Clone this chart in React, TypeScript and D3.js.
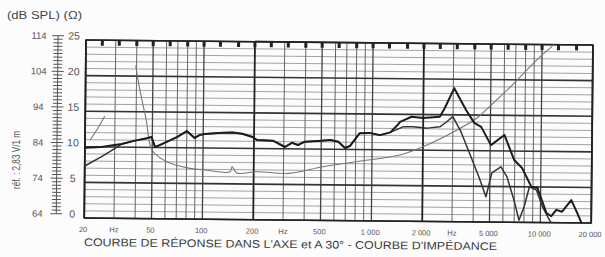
import React, { useEffect, useRef } from "react";
import * as d3 from "d3";

// tick labels
const freqTicks = [20, 50, 100, 200, 500, 1000, 2000, 5000, 10000, 20000];
const freqTickLabels = ["20", "50", "100", "200", "500", "1 000", "2 000", "5 000", "10 000", "20 000"];
const hzLabelFreqs = [30, 300, 3000];
const splTicks = [64, 74, 84, 94, 104, 114];
const ohmTicks = [0, 5, 10, 15, 20, 25];
const thirdOctaveMarks = [25, 31.5, 40, 50, 63, 80, 100, 125, 160, 200, 250, 315, 400, 500, 630, 800, 1000, 1250, 1600, 2000, 2500, 3150, 4000, 5000, 6300, 8000, 10000, 12500, 16000];

// response curves (dB SPL)
const axisLowFreq = [20, 25, 30];
const axisLowSpl = [83.7, 84.0, 84.6];
const offAxisLowFreq = [20, 25, 30];
const offAxisLowSpl = [78.6, 81.2, 83.6];
const commonFreq = [33, 39, 46.5, 49.5, 52, 61, 70, 80, 89, 95, 102, 130, 150, 170, 194, 208, 259, 305, 335, 364, 400, 480, 566, 631, 692, 739, 844, 966, 1112, 1279];
const commonSpl = [84.9, 85.8, 86.6, 86.95, 84.1, 85.6, 87.0, 88.7, 86.8, 87.6, 87.9, 88.35, 88.4, 88.1, 87.3, 86.4, 86.25, 84.5, 85.7, 85.1, 86.05, 86.3, 86.6, 86.1, 84.4, 84.95, 88.6, 88.7, 88.1, 88.9];
const axisHighFreq = [1411, 1460, 1705, 1996, 2508, 2680, 3040, 3580, 4010, 4410, 5050, 6060, 6940, 7740, 8810, 9570, 10860, 11600, 12400, 13440, 15200, 16500, 17700];
const axisHighSpl = [91.0, 91.9, 93.35, 93.0, 93.4, 95.9, 101.5, 95.4, 91.8, 90.7, 85.6, 88.5, 81.5, 79.25, 74.0, 73.7, 66.7, 65.8, 67.6, 67.1, 70.4, 66.8, 63.5];
const offAxisHighFreq = [1520, 1740, 2120, 2510, 2760, 2990, 3350, 3850, 4300, 4750, 5130, 5800, 6300, 6960, 7470, 8000, 8580, 9440, 10280, 11330, 11800];
const offAxisHighSpl = [90.5, 90.55, 90.2, 90.6, 92.05, 93.5, 89.3, 82.3, 76.7, 71.1, 77.8, 79.55, 76.8, 70.25, 64.6, 68.4, 74.0, 73.1, 68.4, 64.7, 63.5];

// impedance curve (ohm); the resonance peak is faded out on the scan (NaN = not visible)
const impFreq = [21.4, 23.5, 26.1, 33, 39.5, 41.4, 45.9, 49.9, 61.2, 83.7, 102.6, 145, 149, 159, 209, 328, 512, 812, 1460, 2000, 3180, 4140, 4920, 6260, 7780, 9760, 11550, 13000];
const impOhm = [10.95, 12.4, 14.35, NaN, 21.5, 18.75, 13.85, 9.65, 8.0, 7.12, 6.9, 6.7, 7.4, 6.53, 6.74, 6.56, 7.53, 8.29, 9.28, 10.48, 12.88, 14.55, 16.2, 18.57, 20.9, 23.3, 24.9, 27];

function zip(f: number[], v: number[]) {
  return f.map((d, i) => [d, v[i]] as [number, number]);
}

function App() {
  const svgRef = useRef<SVGSVGElement>(null);

  useEffect(() => {
    document.body.style.margin = "0";
    const w = 605;
    const h = 257;
    const left = 86;
    const top = 40;
    const W = 507;
    const H = 178;
    const font = "'Liberation Sans', Arial, sans-serif";

    const svg = d3.select(svgRef.current);
    svg.selectAll("*").remove();
    svg.attr("width", w).attr("height", h).style("display", "block").style("background", "#fcfcfc");

    const x = d3.scaleLog().domain([20, 20000]).range([0, W]);
    const ySpl = d3.scaleLinear().domain([64, 114]).range([H, 0]);
    const yOhm = d3.scaleLinear().domain([0, 25]).range([H, 0]);

    svg
      .append("text")
      .attr("x", 7)
      .attr("y", 18.5)
      .attr("textLength", 75)
      .attr("lengthAdjust", "spacingAndGlyphs")
      .style("font-family", font)
      .style("font-size", "10px")
      .style("fill", "#444")
      .text("(dB SPL) (Ω)");

    svg
      .append("text")
      .attr("transform", "translate(19.5,160) rotate(-90)")
      .attr("text-anchor", "middle")
      .attr("textLength", 58)
      .attr("lengthAdjust", "spacingAndGlyphs")
      .style("font-family", font)
      .style("font-size", "10px")
      .style("fill", "#555")
      .text("réf. : 2,83 V/1 m");

    // the scan is slightly tilted
    const g = svg.append("g").attr("transform", `translate(${left},${top}) rotate(0.57)`);

    g.append("defs")
      .append("clipPath")
      .attr("id", "plotClip")
      .append("rect")
      .attr("x", 0)
      .attr("y", 0)
      .attr("width", W)
      .attr("height", H);

    // left scale
    const rulerX = -28;
    const off = -4;
    g.append("line")
      .attr("x1", rulerX)
      .attr("x2", rulerX)
      .attr("y1", ySpl(114) + off)
      .attr("y2", ySpl(64) + off)
      .style("stroke", "#555")
      .style("stroke-width", 1);
    g.selectAll(".rtick")
      .data(d3.range(64, 115, 1))
      .join("line")
      .attr("x1", (d) => rulerX - ((d - 64) % 10 === 0 ? 6 : 4.5))
      .attr("x2", (d) => rulerX + ((d - 64) % 10 === 0 ? 6 : 4.5))
      .attr("y1", (d) => ySpl(d) + off)
      .attr("y2", (d) => ySpl(d) + off)
      .style("stroke", "#555")
      .style("stroke-width", 1);
    g.selectAll(".splLabel")
      .data(splTicks)
      .join("text")
      .attr("x", -47)
      .attr("y", (d) => ySpl(d) + off)
      .attr("dy", "0.35em")
      .attr("text-anchor", "middle")
      .style("font-family", font)
      .style("font-size", "9.5px")
      .style("fill", "#555")
      .text((d) => d);
    g.selectAll(".ohmLabel")
      .data(ohmTicks)
      .join("text")
      .attr("x", -12)
      .attr("y", (d) => yOhm(d) + off)
      .attr("dy", "0.35em")
      .attr("text-anchor", "middle")
      .style("font-family", font)
      .style("font-size", "10.5px")
      .style("fill", "#555")
      .text((d) => d);

    // grid
    const minorH = d3.range(64, 115, 2).filter((d) => (d - 64) % 10 !== 0);
    g.selectAll(".minorH")
      .data(minorH)
      .join("line")
      .attr("x1", 0)
      .attr("x2", W)
      .attr("y1", (d) => ySpl(d))
      .attr("y2", (d) => ySpl(d))
      .style("stroke", "#999")
      .style("stroke-width", 0.9);

    const vlines: { f: number; k: number }[] = [];
    [10, 100, 1000, 10000].forEach((dec) => {
      for (let k = 1; k <= 9; k++) {
        const f = k * dec;
        if (f >= 20 && f <= 20000) vlines.push({ f, k });
      }
    });
    g.selectAll(".vline")
      .data(vlines)
      .join("line")
      .attr("x1", (d) => x(d.f))
      .attr("x2", (d) => x(d.f))
      .attr("y1", 0)
      .attr("y2", H)
      .style("stroke", (d) => (d.k === 2 ? "#222" : d.k === 1 || d.k === 5 ? "#444" : "#666"))
      .style("stroke-width", (d) => (d.k === 2 ? 1.8 : d.k === 1 || d.k === 5 ? 1.3 : 1));

    g.selectAll(".majorH")
      .data(splTicks)
      .join("line")
      .attr("x1", 0)
      .attr("x2", W)
      .attr("y1", (d) => ySpl(d))
      .attr("y2", (d) => ySpl(d))
      .style("stroke", "#333")
      .style("stroke-width", 1.6);

    g.append("rect")
      .attr("x", 0)
      .attr("y", 0)
      .attr("width", W)
      .attr("height", H)
      .style("fill", "none")
      .style("stroke", "#222")
      .style("stroke-width", 1.6);

    g.selectAll(".mark")
      .data(thirdOctaveMarks)
      .join("rect")
      .attr("x", (d) => x(d) - 1.5)
      .attr("y", 0)
      .attr("width", 3)
      .attr("height", 5.5)
      .style("fill", "#222");

    // curves
    const curves = g.append("g").attr("clip-path", "url(#plotClip)");
    const splLine = d3
      .line<[number, number]>()
      .x((d) => x(d[0]))
      .y((d) => ySpl(d[1]));
    const ohmLine = d3
      .line<[number, number]>()
      .defined((d) => !isNaN(d[1]))
      .x((d) => x(d[0]))
      .y((d) => yOhm(d[1]))
      .curve(d3.curveCatmullRom.alpha(0.5));

    curves
      .append("path")
      .attr("d", ohmLine(zip(impFreq, impOhm)))
      .style("fill", "none")
      .style("stroke", "#777")
      .style("stroke-width", 1.1);

    const offAxis = zip(offAxisLowFreq, offAxisLowSpl)
      .concat(zip(commonFreq, commonSpl))
      .concat(zip(offAxisHighFreq, offAxisHighSpl));
    const axis = zip(axisLowFreq, axisLowSpl)
      .concat(zip(commonFreq, commonSpl))
      .concat(zip(axisHighFreq, axisHighSpl));

    curves
      .append("path")
      .attr("d", splLine(offAxis))
      .style("fill", "none")
      .style("stroke", "#333")
      .style("stroke-width", 1.5)
      .style("stroke-linejoin", "round");
    curves
      .append("path")
      .attr("d", splLine(axis))
      .style("fill", "none")
      .style("stroke", "#1c1c1c")
      .style("stroke-width", 2)
      .style("stroke-linejoin", "round");

    // bottom labels
    g.selectAll(".fLabel")
      .data(freqTicks)
      .join("text")
      .attr("x", (d) => x(d) - 1)
      .attr("y", H + 14)
      .attr("text-anchor", "middle")
      .style("font-family", font)
      .style("font-size", "7.5px")
      .style("fill", "#555")
      .text((d, i) => freqTickLabels[i]);
    g.selectAll(".hzLabel")
      .data(hzLabelFreqs)
      .join("text")
      .attr("x", (d) => x(d))
      .attr("y", H + 14)
      .attr("text-anchor", "middle")
      .style("font-family", font)
      .style("font-size", "7.5px")
      .style("fill", "#555")
      .text("Hz");

    g.append("text")
      .attr("x", 0)
      .attr("y", H + 28)
      .attr("textLength", 413)
      .attr("lengthAdjust", "spacingAndGlyphs")
      .style("font-family", font)
      .style("font-size", "11px")
      .style("fill", "#3a3a3a")
      .text("COURBE DE RÉPONSE DANS L'AXE et A 30° - COURBE D'IMPÉDANCE");
  }, []);

  return (
    <div>
      <svg ref={svgRef}></svg>
    </div>
  );
}

export default App;
